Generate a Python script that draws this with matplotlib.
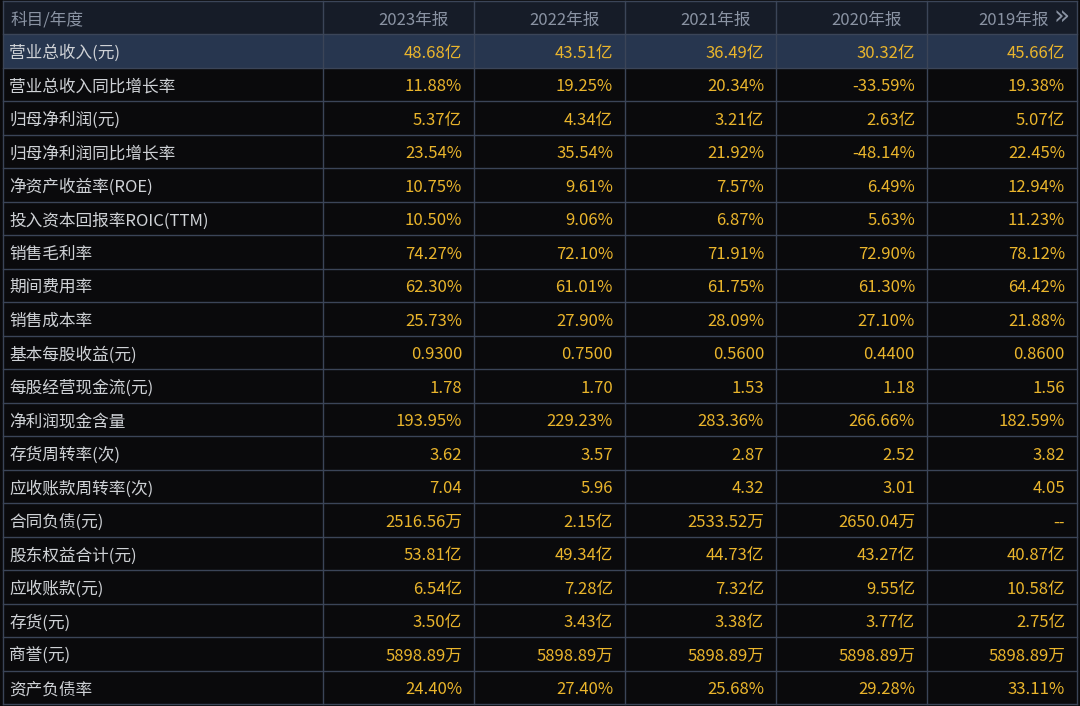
import matplotlib
matplotlib.use("Agg")
import matplotlib.pyplot as plt
from matplotlib.patches import Rectangle

plt.rcParams['font.family'] = ['Noto Sans CJK SC', 'DejaVu Sans']

# table content
years = ["2023年报", "2022年报", "2021年报", "2020年报", "2019年报"]
items = ["营业总收入(元)", "营业总收入同比增长率", "归母净利润(元)", "归母净利润同比增长率",
         "净资产收益率(ROE)", "投入资本回报率ROIC(TTM)", "销售毛利率", "期间费用率",
         "销售成本率", "基本每股收益(元)", "每股经营现金流(元)", "净利润现金含量",
         "存货周转率(次)", "应收账款周转率(次)", "合同负债(元)", "股东权益合计(元)",
         "应收账款(元)", "存货(元)", "商誉(元)", "资产负债率"]
v2023 = ["48.68亿", "11.88%", "5.37亿", "23.54%", "10.75%", "10.50%", "74.27%", "62.30%",
         "25.73%", "0.9300", "1.78", "193.95%", "3.62", "7.04", "2516.56万", "53.81亿",
         "6.54亿", "3.50亿", "5898.89万", "24.40%"]
v2022 = ["43.51亿", "19.25%", "4.34亿", "35.54%", "9.61%", "9.06%", "72.10%", "61.01%",
         "27.90%", "0.7500", "1.70", "229.23%", "3.57", "5.96", "2.15亿", "49.34亿",
         "7.28亿", "3.43亿", "5898.89万", "27.40%"]
v2021 = ["36.49亿", "20.34%", "3.21亿", "21.92%", "7.57%", "6.87%", "71.91%", "61.75%",
         "28.09%", "0.5600", "1.53", "283.36%", "2.87", "4.32", "2533.52万", "44.73亿",
         "7.32亿", "3.38亿", "5898.89万", "25.68%"]
v2020 = ["30.32亿", "-33.59%", "2.63亿", "-48.14%", "6.49%", "5.63%", "72.90%", "61.30%",
         "27.10%", "0.4400", "1.18", "266.66%", "2.52", "3.01", "2650.04万", "43.27亿",
         "9.55亿", "3.77亿", "5898.89万", "29.28%"]
v2019 = ["45.66亿", "19.38%", "5.07亿", "22.45%", "12.94%", "11.23%", "78.12%", "64.42%",
         "21.88%", "0.8600", "1.56", "182.59%", "3.82", "4.05", "--", "40.87亿",
         "10.58亿", "2.75亿", "5898.89万", "33.11%"]
columns = [v2023, v2022, v2021, v2020, v2019]

# layout (pixels)
W, H = 1080, 706
col_edges = [3, 323, 474, 625, 776, 927, 1077]
top, head_h = 1, 33
row_h = (704 - (top + head_h)) / len(items)
dy = 2.5  # CJK font sits a bit high with va=center

bg = "#0a0a0c"
head_bg = "#161c28"
hl_bg = "#27364f"
grid = "#3b4558"
label_c = "#cfd2d6"
head_c = "#8a93a3"
value_c = "#eab52c"
fs = 12

fig = plt.figure(figsize=(W / 100, H / 100), dpi=100)
fig.patch.set_facecolor(bg)
ax = fig.add_axes([0, 0, 1, 1])
ax.set_xlim(0, W)
ax.set_ylim(H, 0)
ax.axis("off")

# header
ax.add_patch(Rectangle((col_edges[0], top), col_edges[-1] - col_edges[0], head_h,
                       facecolor=head_bg, edgecolor="none"))
yc = top + head_h / 2 + dy
ax.text(col_edges[0] + 8, yc, "科目/年度", color=head_c, fontsize=fs, va="center", ha="left")
for j, yr in enumerate(years):
    right = col_edges[j + 2]
    if j == len(years) - 1:
        ax.text(right - 28, yc, yr, color=head_c, fontsize=fs, va="center", ha="right")
        ax.text(right - 7, yc - 2, "»", color=head_c, fontsize=fs + 7, va="center", ha="right",
                family="DejaVu Sans")
    else:
        ax.text(right - 25, yc, yr, color=head_c, fontsize=fs, va="center", ha="right")

# body
for i, name in enumerate(items):
    y0 = top + head_h + i * row_h
    if i == 0:
        ax.add_patch(Rectangle((col_edges[0], y0), col_edges[-1] - col_edges[0], row_h,
                               facecolor=hl_bg, edgecolor="none"))
    ym = y0 + row_h / 2 + dy
    ax.text(col_edges[0] + 6, ym, name, color=label_c, fontsize=fs, va="center", ha="left")
    for j, col in enumerate(columns):
        ax.text(col_edges[j + 2] - 12, ym, col[i], color=value_c, fontsize=fs,
                va="center", ha="right")

# grid lines
bottom = top + head_h + len(items) * row_h
for x in col_edges:
    ax.plot([x, x], [top, bottom], color=grid, lw=1.0)
for k in range(len(items) + 2):
    y = top if k == 0 else top + head_h + (k - 1) * row_h
    ax.plot([col_edges[0], col_edges[-1]], [y, y], color=grid, lw=1.0)

fig.savefig("out.png", dpi=100, facecolor=bg)
